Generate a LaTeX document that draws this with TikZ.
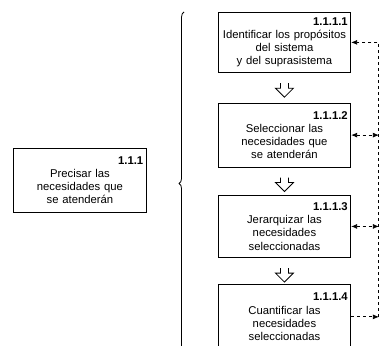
\documentclass[tikz,border=0pt]{standalone}
\usepackage{fontspec}
\setmainfont{Liberation Sans}
\usetikzlibrary{decorations.pathreplacing,arrows.meta}

\newcommand{\boxnum}[1]{\makebox[\hsize][r]{\bfseries #1}}

\tikzset{
    box/.style={draw, thick, text width=4.45cm, minimum height=2.2cm, align=center,
        inner sep=3pt, font=\fontsize{11.3}{13.2}\selectfont},
    link/.style={dashed, thick}
}

\begin{document}
\begin{tikzpicture}
    \useasboundingbox (0,0) rectangle (13.57,-12.13);

    \node (b0) at (2.81,-6.33) [box, minimum height=2.25cm] {\boxnum{1.1.1}\\Precisar las\\necesidades que\\se atenderán};

    \node (b1) at (10.0,-1.49) [box, minimum height=2.14cm] {\boxnum{1.1.1.1}\\Identificar los propósitos\\del sistema\\y del suprasistema};
    \node (b2) at (10.0,-4.75) [box, minimum height=2.25cm] {\boxnum{1.1.1.2}\\Seleccionar las\\necesidades que\\se atenderán};
    \node (b3) at (10.0,-7.96) [box] {\boxnum{1.1.1.3}\\Jerarquizar las\\necesidades\\seleccionadas};
    \node (b4) at (10.0,-11.14) [box, minimum height=2.25cm] {\boxnum{1.1.1.4}\\Cuantificar las\\necesidades\\seleccionadas};

    % brace
    \coordinate (bt) at (6.47,-0.42);
    \coordinate (bb) at (6.47,-12.48);
    \draw [thick, decorate, decoration={brace, amplitude=5pt}] (bb) -- (bt);

    % hollow arrows
    \foreach \u/\l in {b1/b2, b2/b3, b3/b4}
        \draw [thick] ([xshift=-4pt,yshift=-10pt]\u.south) -- ++(0,-5pt) -- ++(-5pt,0) -- ++(9pt,-9pt) -- ++(9pt,9pt) -- ++(-5pt,0) -- ++(0,5pt);

    % feedback
    \coordinate (rail) at (13.32,0);
    \draw [link, -{Latex[length=6pt,width=5pt]}] (b4.east) -- (b4.east -| rail);
    \draw [link, -{Latex[length=6pt,width=5pt]}] (b4.east -| rail) -- (b1.east -| rail) -- (b1.east);
    \draw [link, {Latex[length=6pt,width=5pt]}-{Latex[length=6pt,width=5pt]}] (b2.east) -- (b2.east -| rail);
    \draw [link, {Latex[length=6pt,width=5pt]}-{Latex[length=6pt,width=5pt]}] (b3.east) -- (b3.east -| rail);

\end{tikzpicture}
\end{document}
